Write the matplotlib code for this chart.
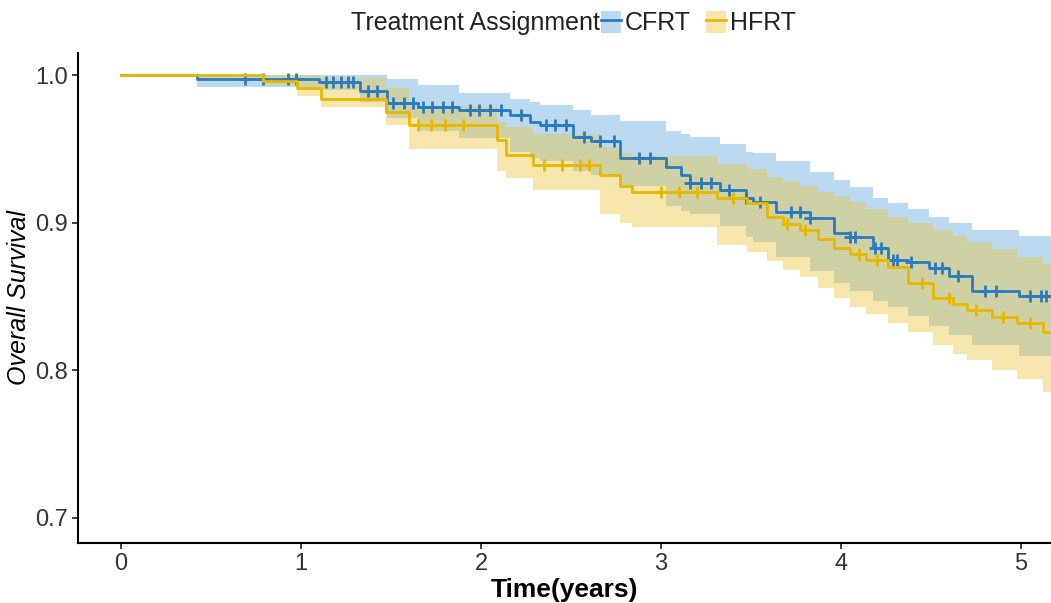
import numpy as np
import matplotlib
matplotlib.use("Agg")
import matplotlib.pyplot as plt
from matplotlib.patches import Patch
from matplotlib.lines import Line2D

plt.rcParams['font.family'] = ['Liberation Sans Narrow', 'Liberation Sans', 'DejaVu Sans']

# Kaplan-Meier steps: time (years), survival, 95% CI lower / upper
cfrt_time = [0.00, 0.42, 1.10, 1.33, 1.48, 1.65, 1.88, 2.16, 2.27, 2.33, 2.51, 2.61, 2.77,
             3.03, 3.11, 3.16, 3.33, 3.47, 3.51, 3.64, 3.83, 3.96, 4.05, 4.18, 4.26,
             4.37, 4.49, 4.60, 4.73, 4.99]
cfrt_surv = [1.000, 0.997, 0.995, 0.989, 0.981, 0.978, 0.976, 0.973, 0.968, 0.966, 0.958, 0.955, 0.944,
             0.938, 0.932, 0.927, 0.922, 0.917, 0.914, 0.907, 0.903, 0.893, 0.890, 0.883, 0.875,
             0.873, 0.869, 0.864, 0.854, 0.850]
cfrt_lower = [1.000, 0.992, 0.990, 0.982, 0.971, 0.962, 0.957, 0.948, 0.944, 0.942, 0.935, 0.932, 0.925,
              0.911, 0.908, 0.906, 0.898, 0.890, 0.887, 0.877, 0.867, 0.859, 0.854, 0.847, 0.843,
              0.837, 0.830, 0.824, 0.817, 0.810]
cfrt_upper = [1.000, 1.000, 1.000, 1.000, 0.997, 0.993, 0.988, 0.984, 0.982, 0.980, 0.976, 0.973, 0.969,
              0.962, 0.960, 0.958, 0.953, 0.948, 0.947, 0.942, 0.934, 0.929, 0.924, 0.917, 0.913,
              0.909, 0.904, 0.900, 0.895, 0.891]

hfrt_time = [0.00, 0.79, 0.98, 1.11, 1.47, 1.60, 2.09, 2.14, 2.29, 2.66, 2.77, 2.84, 3.31,
             3.48, 3.59, 3.68, 3.77, 3.87, 3.96, 4.05, 4.14, 4.26, 4.37, 4.51, 4.62,
             4.70, 4.84, 4.98, 5.12]
hfrt_surv = [1.000, 0.996, 0.991, 0.984, 0.975, 0.966, 0.956, 0.946, 0.939, 0.932, 0.925, 0.921, 0.917,
             0.913, 0.904, 0.899, 0.895, 0.889, 0.883, 0.879, 0.875, 0.870, 0.859, 0.849, 0.845,
             0.841, 0.836, 0.832, 0.826]
hfrt_lower = [1.000, 0.993, 0.986, 0.978, 0.966, 0.950, 0.935, 0.930, 0.922, 0.906, 0.900, 0.897, 0.885,
              0.880, 0.874, 0.868, 0.863, 0.856, 0.849, 0.843, 0.838, 0.832, 0.826, 0.817, 0.811,
              0.807, 0.800, 0.794, 0.785]
hfrt_upper = [1.000, 1.000, 1.000, 0.998, 0.991, 0.979, 0.968, 0.965, 0.960, 0.951, 0.947, 0.945, 0.940,
              0.936, 0.931, 0.928, 0.925, 0.921, 0.918, 0.914, 0.909, 0.904, 0.900, 0.895, 0.891,
              0.887, 0.882, 0.877, 0.872]

# censored observations
cfrt_censor = [0.69, 0.79, 0.93, 0.97, 1.14, 1.18, 1.22, 1.26, 1.29, 1.37, 1.42, 1.51, 1.57, 1.62,
               1.68, 1.73, 1.79, 1.84, 1.94, 1.99, 2.05, 2.11, 2.22, 2.36, 2.41, 2.47, 2.57, 2.66,
               2.74, 2.88, 2.94, 3.16, 3.22, 3.28, 3.38, 3.47, 3.55, 3.72, 3.77, 3.83, 4.05, 4.08,
               4.19, 4.22, 4.29, 4.31, 4.39, 4.52, 4.56, 4.65, 4.80, 4.86, 5.05, 5.11, 5.14]
hfrt_censor = [1.65, 1.72, 1.80, 1.90, 2.35, 2.45, 2.55, 2.60, 3.00, 3.10, 3.20, 3.40, 3.70, 3.80,
               4.10, 4.20, 4.45, 4.60, 4.75, 4.90, 5.05]

groups = ['CFRT', 'HFRT']
line_colors = ['#2C7BBE', '#E7B800']
band_colors = ['#5FA9E0', '#EDC53A']
x_end = 5.3

fig = plt.figure(figsize=(10.51, 6.03), dpi=100)
ax = fig.add_axes([0.0742, 0.0995, 0.9258, 0.8126])

data = [(cfrt_time, cfrt_surv, cfrt_lower, cfrt_upper, cfrt_censor),
        (hfrt_time, hfrt_surv, hfrt_lower, hfrt_upper, hfrt_censor)]

for (t, s, lo, hi, cens), lc, bc in zip(data, line_colors, band_colors):
    t = np.append(t, x_end)
    s = np.append(s, s[-1])
    lo = np.append(lo, lo[-1])
    hi = np.append(hi, hi[-1])
    ax.fill_between(t, lo, hi, step='post', color=bc, alpha=0.42, linewidth=0)
    ax.step(t, s, where='post', color=lc, lw=2)
    idx = np.searchsorted(t, cens, side='right') - 1
    ax.plot(cens, s[idx], linestyle='none', marker='+', markersize=8,
            markeredgewidth=2, color=lc)

ax.set_xlim(-0.239, 5.167)
ax.set_ylim(0.683, 1.0149)
ax.set_xticks([0, 1, 2, 3, 4, 5])
ax.set_yticks([0.7, 0.8, 0.9, 1.0])
ax.set_yticklabels(['0.7', '0.8', '0.9', '1.0'])
for side in ['top', 'right']:
    ax.spines[side].set_visible(False)
for side in ['left', 'bottom']:
    ax.spines[side].set_linewidth(1.5)
ax.tick_params(length=4, width=1.2, labelsize=17, colors='#222222', labelcolor='#333333')

ax.set_xlabel('Time(years)', fontsize=19, fontweight='bold', labelpad=2)
ax.set_ylabel('Overall Survival', fontsize=18, fontstyle='italic')
ax.yaxis.set_label_coords(-0.048, 0.5)

# legend across the top
fig.text(0.571, 0.962, 'Treatment Assignment', ha='right', va='center', fontsize=18, color='#222222')
handles = [(Patch(facecolor=bc, alpha=0.42, edgecolor='none'), Line2D([], [], color=lc, lw=2))
           for lc, bc in zip(line_colors, band_colors)]
fig.legend(handles, groups, loc='center left', bbox_to_anchor=(0.572, 0.962), ncol=2,
           frameon=False, fontsize=18, handlelength=0.8, handleheight=1.0,
           handletextpad=0.15, columnspacing=0.6, borderaxespad=0, borderpad=0,
           labelcolor='#222222')

fig.savefig('out.png', dpi=100)
